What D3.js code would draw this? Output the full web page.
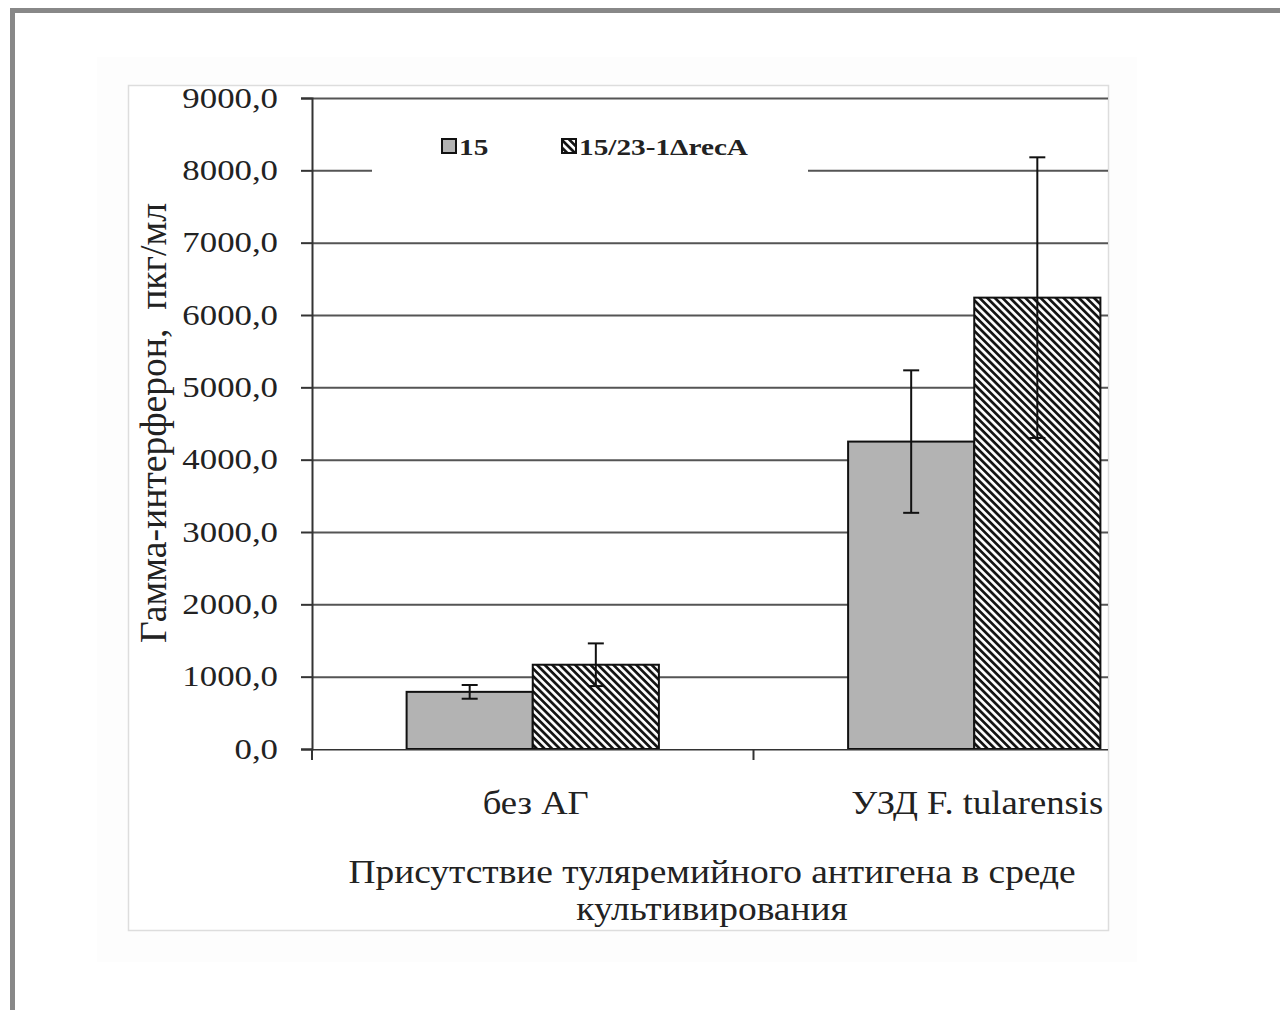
<!DOCTYPE html>
<html>
<head>
<meta charset="utf-8">
<title>Гамма-интерферон</title>
<script src="https://cdn.jsdelivr.net/npm/d3@7"></script>
<style>
	body { margin: 0; background: #fff; }
	text { font-family: "Liberation Serif", "Times New Roman", serif; fill: #222; }
</style>
</head>
<body>
<div id="chart"></div>
<script>

	// data
	var categories = ["без АГ", "УЗД F. tularensis"];
	var series = ["15", "15/23-1ΔrecA"];
	var values_15 = [790, 4250];
	var err_15 = [95, 985];
	var values_rec = [1165, 6240];
	var err_rec = [295, 1940];
	var y_ticks = [0, 1000, 2000, 3000, 4000, 5000, 6000, 7000, 8000, 9000];
	var y_tick_labels = ["0,0", "1000,0", "2000,0", "3000,0", "4000,0", "5000,0", "6000,0", "7000,0", "8000,0", "9000,0"];

	var W = 1280, H = 1010;
	var x_left = 312, x_right = 1108, y_top = 98, y_bottom = 749;

	var svg = d3.select("#chart").append("svg")
		.attr("width", W)
		.attr("height", H);

	var defs = svg.append("defs");
	var pat = defs.append("pattern")
		.attr("id", "hatch")
		.attr("patternUnits", "userSpaceOnUse")
		.attr("width", 5.4)
		.attr("height", 5.4)
		.attr("patternTransform", "rotate(-45)");
	pat.append("rect").attr("width", 5.4).attr("height", 5.4).attr("fill", "#fff");
	pat.append("line")
		.attr("x1", 1.4).attr("y1", 0).attr("x2", 1.4).attr("y2", 5.4)
		.attr("stroke", "#111").attr("stroke-width", 2.7);

	defs.append("clipPath").attr("id", "plot-clip")
		.append("rect")
		.attr("x", 0).attr("y", 0)
		.attr("width", x_right).attr("height", H);

	// outer frame
	svg.append("rect")
		.attr("x", 12.5).attr("y", 10.5)
		.attr("width", 1400).attr("height", 1200)
		.attr("fill", "none")
		.attr("stroke", "#888")
		.attr("stroke-width", 5);

	// chart area
	svg.append("rect")
		.attr("x", 97).attr("y", 57)
		.attr("width", 1040).attr("height", 905)
		.attr("fill", "#fdfdfd");
	svg.append("rect")
		.attr("x", 128.5).attr("y", 85.5)
		.attr("width", 980).attr("height", 845)
		.attr("fill", "#fff")
		.attr("stroke", "#ddd")
		.attr("stroke-width", 1.5);

	var y = d3.scaleLinear().domain([0, 9000]).range([y_bottom, y_top]);
	var x0 = d3.scaleBand().domain(categories).range([x_left, 1195]);
	var x1 = d3.scaleBand().domain(series).range([0, x0.bandwidth()]).paddingOuter(0.75);

	// text in the picture is a bit wider than the font, so stretch it
	function stretched(x, y, sx) {
		return "translate(" + x + "," + y + ") scale(" + sx + ",1)";
	}

	// gridlines
	svg.append("g")
		.attr("class", "grid")
		.attr("transform", "translate(" + x_left + ",0)")
		.call(d3.axisLeft(y).tickValues(y_ticks.slice(1)).tickSize(-(x_right - x_left)).tickFormat(""))
		.call(function(g) { g.select(".domain").remove(); })
		.selectAll("line")
		.attr("stroke", "#555")
		.attr("stroke-width", 2);

	// legend box hides part of the grid
	var legend = svg.append("g").attr("class", "legend");
	legend.append("rect")
		.attr("x", 372).attr("y", 112)
		.attr("width", 436).attr("height", 70)
		.attr("fill", "#fff");

	var rows = [
		{ name: series[0], x: 442, fill: "#b3b3b3" },
		{ name: series[1], x: 562, fill: "url(#hatch)" }
	];
	var items = legend.selectAll(".item").data(rows).enter().append("g").attr("class", "item");
	items.append("rect")
		.attr("x", function(d) { return d.x; })
		.attr("y", 139)
		.attr("width", 14).attr("height", 14)
		.attr("fill", function(d) { return d.fill; })
		.attr("stroke", "#111")
		.attr("stroke-width", 2);
	items.append("text")
		.attr("transform", function(d) { return stretched(d.x + 17, 155, 1.22); })
		.attr("font-size", "24px")
		.attr("font-weight", "bold")
		.style("font-family", "'Liberation Serif'")
		.text(function(d) { return d.name; });

	// bars
	var bar_data = [];
	categories.forEach(function(c, i) {
		bar_data.push({ cat: c, s: series[0], v: values_15[i], e: err_15[i], fill: "#b3b3b3" });
		bar_data.push({ cat: c, s: series[1], v: values_rec[i], e: err_rec[i], fill: "url(#hatch)" });
	});

	var plot = svg.append("g").attr("clip-path", "url(#plot-clip)");

	plot.selectAll(".bar")
		.data(bar_data)
		.enter()
		.append("rect")
		.attr("class", "bar")
		.attr("x", function(d) { return x0(d.cat) + x1(d.s); })
		.attr("y", function(d) { return y(d.v); })
		.attr("width", x1.bandwidth())
		.attr("height", function(d) { return y(0) - y(d.v); })
		.attr("fill", function(d) { return d.fill; })
		.attr("stroke", "#111")
		.attr("stroke-width", 2);

	// error bars
	var eb = plot.selectAll(".err").data(bar_data).enter().append("g").attr("class", "err")
		.attr("stroke", "#111").attr("stroke-width", 2);
	function cx(d) { return x0(d.cat) + x1(d.s) + x1.bandwidth() / 2; }
	eb.append("line")
		.attr("x1", cx).attr("x2", cx)
		.attr("y1", function(d) { return y(d.v + d.e); })
		.attr("y2", function(d) { return y(d.v - d.e); });
	eb.append("line")
		.attr("x1", function(d) { return cx(d) - 8; }).attr("x2", function(d) { return cx(d) + 8; })
		.attr("y1", function(d) { return y(d.v + d.e); })
		.attr("y2", function(d) { return y(d.v + d.e); });
	eb.append("line")
		.attr("x1", function(d) { return cx(d) - 8; }).attr("x2", function(d) { return cx(d) + 8; })
		.attr("y1", function(d) { return y(d.v - d.e); })
		.attr("y2", function(d) { return y(d.v - d.e); });

	// y axis
	var y_axis = svg.append("g")
		.attr("transform", "translate(" + x_left + ",0)")
		.call(d3.axisLeft(y).tickValues(y_ticks).tickSize(11).tickPadding(23)
			.tickFormat(function(d, i) { return y_tick_labels[i]; }));
	y_axis.select(".domain").attr("stroke", "#333").attr("stroke-width", 2);
	y_axis.selectAll(".tick line").attr("stroke", "#333").attr("stroke-width", 2);
	y_axis.selectAll(".tick text")
		.attr("x", null)
		.attr("transform", "translate(-34,0) scale(1.2,1)")
		.attr("font-size", "29px")
		.attr("fill", "#222")
		.style("font-family", "'Liberation Serif'");

	// x axis
	var x_axis = svg.append("g")
		.attr("transform", "translate(0," + y_bottom + ")")
		.attr("clip-path", "url(#plot-clip)")
		.call(d3.axisBottom(x0).tickSize(0).tickFormat(""));
	x_axis.select(".domain").attr("stroke", "#333").attr("stroke-width", 2);
	x_axis.selectAll(".sep")
		.data(categories)
		.enter()
		.append("line")
		.attr("x1", function(d) { return x0(d); })
		.attr("x2", function(d) { return x0(d); })
		.attr("y1", 0).attr("y2", 11)
		.attr("stroke", "#333").attr("stroke-width", 2);

	svg.selectAll(".cat-label")
		.data(categories)
		.enter()
		.append("text")
		.attr("class", "cat-label")
		.attr("transform", function(d) { return stretched(x0(d) + x0.bandwidth() / 2 + 3, 814, 1.11); })
		.attr("text-anchor", "middle")
		.attr("font-size", "33px")
		.text(function(d) { return d; });

	// axis titles
	svg.append("text")
		.attr("transform", stretched(712, 883, 1.1))
		.attr("text-anchor", "middle")
		.attr("font-size", "34px")
		.text("Присутствие туляремийного антигена в среде");
	svg.append("text")
		.attr("transform", stretched(712, 920, 1.1))
		.attr("text-anchor", "middle")
		.attr("font-size", "34px")
		.text("культивирования");

	svg.append("text")
		.attr("transform", "translate(166,423) rotate(-90) scale(1.14,1.12)")
		.attr("text-anchor", "middle")
		.attr("font-size", "33px")
		.attr("xml:space", "preserve")
		.style("white-space", "pre")
		.text("Гамма-интерферон,  пкг/мл");

</script>
</body>
</html>
